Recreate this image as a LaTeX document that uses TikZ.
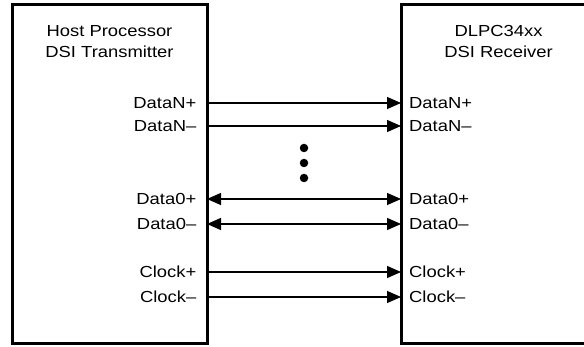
\documentclass[tikz,border=0pt]{standalone}
\usepackage{fontspec}
\setmainfont{Liberation Sans}
\usetikzlibrary{positioning, arrows.meta}
\tikzset{
>={Triangle[length=14pt,width=12pt]}, % solid heads like the data sheet
}
\newcommand\widetxt[1]{\scalebox{1.15}[1]{#1}} % the sheet's lettering is a bit wide

\begin{document}
\begin{tikzpicture}[x=1pt,y=-1pt,font=\fontsize{16}{20}\selectfont,
  block/.style={draw,line width=3pt,minimum width=195pt,minimum height=339pt,inner sep=0pt,outer sep=0pt},
  title/.style={inner sep=0pt,anchor=base},
  pin/.style={inner sep=0pt},
  wire/.style={line width=1.3pt},
  dot/.style={circle,fill=black,inner sep=0pt,minimum size=8.5pt}]
\useasboundingbox (0,0) rectangle (584,347);
\node[block] (host) at (109.5,174.5) {};
\node[block] (dlpc) at (498.5,174.5) {};
\node[title] (hostA) at (109.5,37) {\widetxt{Host Processor}};
\node[title] (hostB) at (109.5,57.5) {\widetxt{DSI Transmitter}};
\node[title] (dlpcA) at (498.5,37) {\widetxt{DLPC34xx}};
\node[title] (dlpcB) at (498.5,57.5) {\widetxt{DSI Receiver}};

\foreach \y/\lab/\tips [count=\i] in {103/DataN/->,126/DataN/->,199/Data0/<->,224/Data0/<->,272/Clock/->,297/Clock/->}{
  \pgfmathparse{isodd(\i) ? "+" : "--"}
  \edef\sgn{\pgfmathresult}
  \coordinate (tx\i) at (host.east |- 0,\y);
  \coordinate (rx\i) at (dlpc.west |- 0,\y);
  \node[pin,left=10.5pt of tx\i,anchor=base east,yshift=-5.5pt] (txl\i) {\widetxt{\lab\sgn}};
  \node[pin,right=8pt of rx\i,anchor=base west,yshift=-5.5pt] (rxl\i) {\widetxt{\lab\sgn}};
  \draw[wire,\tips] (tx\i) -- (rx\i);
}

\node[dot] (dot1) at (304,148) {};
\node[dot] (dot2) at (304,163) {};
\node[dot] (dot3) at (304,178) {};
\end{tikzpicture}
\end{document}
